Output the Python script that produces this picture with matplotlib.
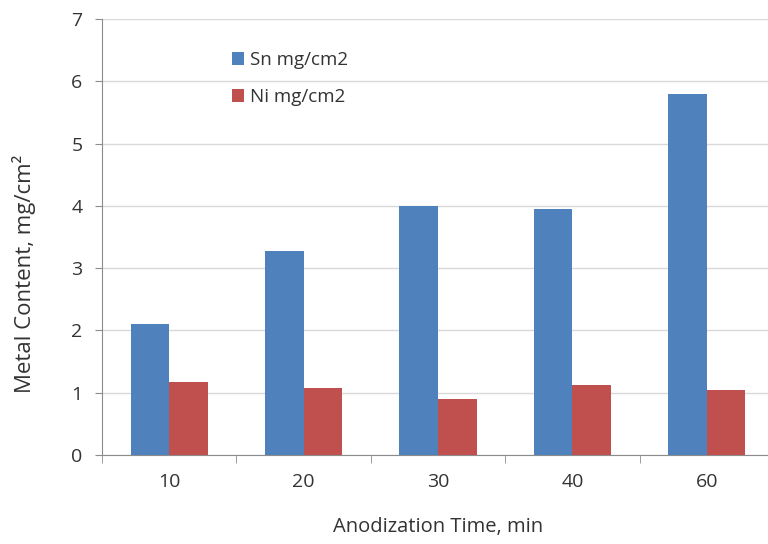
import matplotlib
matplotlib.use("Agg")
import matplotlib.pyplot as plt
import numpy as np

categories = ["10", "20", "30", "40", "60"]
sn_values = [2.1, 3.28, 4.0, 3.95, 5.8]
ni_values = [1.18, 1.08, 0.9, 1.13, 1.05]
series_names = ["Sn mg/cm2", "Ni mg/cm2"]
yticks = [0, 1, 2, 3, 4, 5, 6, 7]

plt.rcParams['font.family'] = ['Open Sans', 'DejaVu Sans']

fig = plt.figure(figsize=(7.68, 5.44), dpi=100)
ax = fig.add_axes([102/768, 1-455/544, 672/768, (455-19)/544])

x = np.arange(len(categories))
w = 0.287
ax.bar(x - w/2, sn_values, w, color="#4F81BD", label=series_names[0], zorder=3)
ax.bar(x + w/2, ni_values, w, color="#C0504D", label=series_names[1], zorder=3)

ax.set_xlim(-0.5, len(categories) - 0.5)
ax.set_ylim(0, 7)
ax.set_yticks(yticks)
ax.set_yticklabels([str(t) for t in yticks])
ax.set_xticks(x)
ax.set_xticklabels(categories)
ax.set_xticks(np.arange(len(categories) + 1) - 0.5, minor=True)

ax.grid(axis='y', color='#d9d9d9', linewidth=1, zorder=0)
for s in ['top', 'right']:
    ax.spines[s].set_visible(False)
for s in ['left', 'bottom']:
    ax.spines[s].set_color('#8c8c8c')
ax.tick_params(axis='y', colors='#8c8c8c', length=5, labelcolor='#333333', labelsize=14, pad=9)
ax.tick_params(axis='x', which='major', length=0, labelcolor='#333333', labelsize=14, pad=13)
ax.tick_params(axis='x', which='minor', length=6, color='#8c8c8c')

ax.set_xlabel("Anodization Time, min", fontsize=14.5, color='#333333', labelpad=19)
ax.set_ylabel("Metal Content, mg/cm²", fontsize=16, color='#333333')
ax.yaxis.set_label_coords(-0.098, 0.415)

leg = ax.legend(loc='upper left', bbox_to_anchor=(0.168, 0.965), frameon=False,
                fontsize=13.5, handlelength=0.65, handleheight=0.65, handletextpad=0.3,
                labelspacing=1.0)
for t in leg.get_texts():
    t.set_color('#333333')

fig.savefig("out.png", dpi=100)
